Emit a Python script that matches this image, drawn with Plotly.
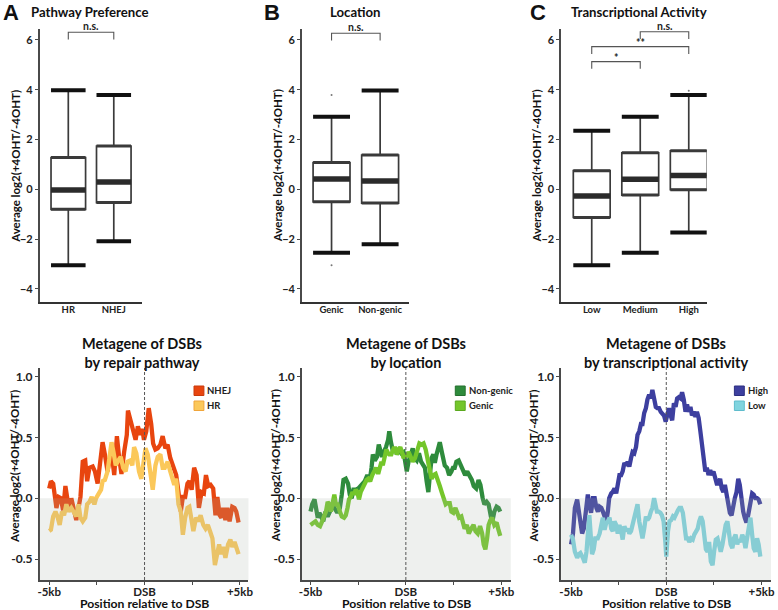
import plotly.graph_objects as go

# ---------------- Box-plot data (top row) ----------------
A_cats = ["HR", "NHEJ"]
A_upper = [3.98, 3.79]
A_q3 = [1.28, 1.74]
A_median = [-0.03, 0.30]
A_q1 = [-0.80, -0.53]
A_lower = [-3.05, -2.08]
A_out_cat, A_out_val = [], []
A_sig_left, A_sig_right, A_sig_height, A_sig_label = [0], [1], [6.31], ["n.s."]

B_cats = ["Genic", "Non-genic"]
B_upper = [2.92, 3.97]
B_q3 = [1.08, 1.38]
B_median = [0.42, 0.34]
B_q1 = [-0.50, -0.55]
B_lower = [-2.54, -2.20]
B_out_cat, B_out_val = [0, 0], [3.79, -3.05]
B_sig_left, B_sig_right, B_sig_height, B_sig_label = [0], [1], [6.27], ["n.s."]

C_cats = ["Low", "Medium", "High"]
C_upper = [2.35, 2.92, 3.79]
C_q3 = [0.75, 1.47, 1.55]
C_median = [-0.27, 0.41, 0.56]
C_q1 = [-1.13, -0.23, -0.01]
C_lower = [-3.05, -2.54, -1.73]
C_out_cat, C_out_val = [2], [3.96]
C_sig_left, C_sig_right = [1, 0, 0], [2, 2, 1]
C_sig_height, C_sig_label = [6.33, 5.73, 5.13], ["n.s.", "**", "*"]

# ---------------- Metagene data (bottom row) ----------------
NHEJ_kb = [-5.0,-4.91,-4.79,-4.62,-4.50,-4.39,-4.27,-4.15,-4.05,-3.93,-3.84,-3.70,-3.58,-3.46,-3.36,-3.24,-3.11,-3.01,-2.89,-2.72,-2.60,-2.46,-2.32,-2.20,-2.08,-1.94,-1.85,-1.73,-1.59,-1.45,-1.33,-1.21,-1.07,-0.93,-0.87,-0.73,-0.59,-0.47,-0.35,-0.21,-0.12,-0.03,0.09,0.22,0.35,0.45,0.57,0.69,0.83,0.95,1.09,1.21,1.35,1.47,1.56,1.66,1.78,1.90,2.01,2.13,2.25,2.35,2.47,2.60,2.73,2.85,2.99,3.11,3.22,3.34,3.46,3.60,3.72,3.82,3.94,4.03,4.12,4.24,4.34,4.46,4.60,4.72,4.81,4.93]
NHEJ_val = [0.08,0.14,0.12,-0.08,0.01,0.00,-0.10,0.10,0.00,-0.11,0.00,-0.08,-0.18,-0.08,0.01,0.30,0.31,0.14,0.25,0.26,0.22,0.12,0.33,0.46,0.36,0.22,0.30,0.38,0.19,0.51,0.33,0.20,0.38,0.52,0.72,0.63,0.53,0.48,0.59,0.52,0.57,0.48,0.55,0.74,0.61,0.45,0.40,0.41,0.44,0.51,0.41,0.44,0.33,0.27,0.22,0.19,0.05,-0.11,0.01,0.01,0.12,0.14,0.07,0.25,0.19,-0.08,0.05,0.04,0.19,0.10,0.11,0.08,-0.14,0.01,-0.14,-0.16,-0.08,-0.18,-0.08,-0.19,-0.07,-0.08,-0.11,-0.20]

HR_kb = [-5.0,-4.91,-4.79,-4.67,-4.57,-4.45,-4.33,-4.22,-4.10,-3.98,-3.84,-3.70,-3.58,-3.46,-3.36,-3.24,-3.11,-3.01,-2.89,-2.77,-2.63,-2.54,-2.42,-2.28,-2.20,-2.08,-1.94,-1.85,-1.73,-1.63,-1.51,-1.38,-1.25,-1.12,-0.99,-0.90,-0.76,-0.64,-0.55,-0.43,-0.29,-0.17,-0.07,0.05,0.17,0.31,0.43,0.57,0.69,0.83,0.95,1.06,1.21,1.35,1.47,1.56,1.66,1.78,1.90,2.01,2.13,2.25,2.35,2.47,2.56,2.70,2.82,2.94,3.08,3.20,3.32,3.43,3.56,3.69,3.81,3.91,4.00,4.12,4.24,4.38,4.50,4.60,4.72,4.81,4.93]
HR_val = [-0.27,-0.26,-0.15,-0.11,-0.15,-0.22,-0.11,-0.14,-0.05,-0.11,-0.08,-0.11,-0.15,-0.05,-0.16,-0.19,-0.16,-0.05,-0.03,0.01,-0.05,0.00,0.03,0.07,0.14,0.15,0.22,0.34,0.46,0.38,0.27,0.31,0.34,0.25,0.22,0.30,0.31,0.27,0.42,0.37,0.22,0.16,0.30,0.41,0.36,0.19,0.07,0.27,0.34,0.36,0.25,0.25,0.30,0.22,0.14,0.11,0.16,-0.05,-0.11,-0.30,-0.16,-0.08,-0.07,-0.19,-0.27,-0.16,-0.19,-0.14,-0.22,-0.25,-0.22,-0.27,-0.33,-0.55,-0.44,-0.38,-0.46,-0.40,-0.49,-0.38,-0.34,-0.40,-0.36,-0.40,-0.46]

NONGENIC_kb = [-5.0,-4.91,-4.79,-4.71,-4.62,-4.53,-4.45,-4.33,-4.22,-4.10,-3.98,-3.88,-3.75,-3.63,-3.53,-3.46,-3.36,-3.27,-3.15,-3.03,-2.94,-2.84,-2.75,-2.63,-2.49,-2.37,-2.25,-2.15,-2.02,-1.90,-1.80,-1.73,-1.63,-1.51,-1.42,-1.33,-1.25,-1.16,-1.04,-0.93,-0.87,-0.78,-0.67,-0.55,-0.47,-0.35,-0.24,-0.12,-0.03,0.05,0.14,0.26,0.36,0.45,0.57,0.69,0.80,0.92,1.00,1.09,1.18,1.26,1.35,1.44,1.52,1.61,1.70,1.78,1.90,2.04,2.16,2.27,2.39,2.47,2.56,2.65,2.77,2.87,2.99,3.11,3.22,3.34,3.46,3.56,3.69,3.81,3.91,4.03,4.12,4.24,4.34,4.46,4.55,4.64,4.76,4.86,4.95]
NONGENIC_val = [-0.11,-0.05,-0.01,-0.08,-0.16,-0.12,-0.15,-0.19,-0.11,-0.15,-0.11,-0.05,-0.08,-0.11,-0.11,-0.08,0.03,0.15,0.16,0.12,0.03,0.00,0.07,0.07,0.08,0.10,0.12,0.14,0.19,0.14,0.25,0.36,0.31,0.34,0.44,0.40,0.34,0.38,0.42,0.48,0.55,0.46,0.38,0.41,0.36,0.40,0.37,0.38,0.29,0.22,0.30,0.36,0.41,0.33,0.31,0.37,0.30,0.27,0.25,0.14,0.05,0.19,0.33,0.36,0.29,0.36,0.44,0.46,0.37,0.27,0.25,0.19,0.22,0.25,0.25,0.30,0.31,0.27,0.22,0.19,0.22,0.19,0.15,0.10,0.08,0.15,0.11,0.00,-0.05,-0.03,-0.05,-0.15,-0.18,-0.11,-0.07,-0.08,-0.11]

GENIC_kb = [-5.0,-4.88,-4.74,-4.62,-4.50,-4.39,-4.27,-4.19,-4.10,-4.01,-3.93,-3.84,-3.75,-3.67,-3.58,-3.46,-3.36,-3.24,-3.15,-3.06,-2.98,-2.89,-2.80,-2.72,-2.63,-2.54,-2.46,-2.37,-2.28,-2.16,-2.06,-1.97,-1.87,-1.76,-1.64,-1.56,-1.45,-1.37,-1.28,-1.21,-1.11,-1.02,-0.93,-0.87,-0.76,-0.64,-0.55,-0.47,-0.38,-0.29,-0.21,-0.12,-0.03,0.05,0.14,0.26,0.36,0.48,0.61,0.71,0.83,0.93,1.04,1.14,1.23,1.35,1.45,1.56,1.66,1.78,1.90,2.01,2.09,2.18,2.30,2.39,2.49,2.60,2.70,2.79,2.91,2.99,3.08,3.20,3.30,3.43,3.55,3.65,3.77,3.89,4.00,4.08,4.17,4.26,4.34,4.43,4.52,4.64,4.76,4.84,4.95]
GENIC_val = [-0.22,-0.21,-0.19,-0.22,-0.23,-0.19,-0.14,-0.11,-0.03,-0.05,-0.11,-0.03,0.03,-0.05,-0.05,-0.11,-0.15,-0.16,-0.14,-0.08,-0.01,0.01,0.05,0.03,0.07,0.05,-0.01,0.05,0.08,0.12,0.15,0.16,0.14,0.19,0.23,0.25,0.20,0.25,0.30,0.27,0.34,0.40,0.37,0.36,0.36,0.41,0.41,0.36,0.40,0.42,0.38,0.33,0.36,0.34,0.38,0.33,0.30,0.33,0.42,0.45,0.44,0.45,0.40,0.29,0.25,0.16,0.19,0.20,0.14,0.10,0.04,0.00,-0.05,-0.04,-0.04,-0.11,-0.12,-0.08,-0.12,-0.16,-0.15,-0.19,-0.25,-0.22,-0.29,-0.25,-0.22,-0.27,-0.29,-0.23,-0.29,-0.38,-0.42,-0.33,-0.22,-0.18,-0.16,-0.22,-0.20,-0.25,-0.31]

HIGH_kb = [-5.0,-4.90,-4.80,-4.68,-4.59,-4.51,-4.42,-4.33,-4.25,-4.12,-4.04,-3.95,-3.85,-3.76,-3.67,-3.59,-3.50,-3.41,-3.33,-3.24,-3.15,-3.07,-3.00,-2.89,-2.82,-2.72,-2.63,-2.55,-2.46,-2.37,-2.29,-2.20,-2.11,-2.03,-1.94,-1.85,-1.77,-1.68,-1.59,-1.51,-1.42,-1.33,-1.25,-1.16,-1.07,-0.99,-0.90,-0.81,-0.73,-0.64,-0.55,-0.47,-0.38,-0.29,-0.21,-0.12,-0.03,0.05,0.14,0.23,0.31,0.40,0.49,0.57,0.66,0.75,0.83,0.92,1.01,1.09,1.18,1.27,1.35,1.44,1.53,1.61,1.70,1.79,1.87,1.96,2.05,2.13,2.22,2.31,2.39,2.48,2.56,2.65,2.74,2.83,2.91,3.00,3.08,3.17,3.26,3.34,3.43,3.52,3.60,3.69,3.78,3.86,3.95,4.04,4.12,4.21,4.30,4.38,4.51,4.59,4.68,4.77,4.85,4.94]
HIGH_val = [-0.38,-0.29,-0.08,-0.01,-0.11,-0.22,-0.29,-0.25,-0.14,0.03,-0.05,-0.12,0.00,0.00,-0.08,-0.11,-0.07,-0.08,-0.11,-0.16,-0.19,-0.11,0.00,0.04,0.05,0.08,0.04,0.11,0.19,0.19,0.22,0.29,0.27,0.30,0.26,0.33,0.38,0.37,0.42,0.52,0.55,0.61,0.61,0.70,0.74,0.81,0.85,0.82,0.89,0.82,0.75,0.74,0.74,0.71,0.70,0.68,0.63,0.68,0.74,0.68,0.64,0.78,0.75,0.82,0.83,0.82,0.87,0.81,0.71,0.77,0.71,0.75,0.68,0.71,0.67,0.71,0.66,0.55,0.44,0.33,0.22,0.25,0.19,0.23,0.19,0.22,0.16,0.12,0.12,0.16,0.08,0.05,0.11,0.03,-0.01,-0.12,-0.14,-0.05,0.00,0.05,0.16,0.11,-0.03,-0.11,-0.16,-0.20,-0.14,-0.05,0.04,0.03,0.00,0.00,-0.01,-0.05]

LOW_kb = [-5.0,-4.90,-4.80,-4.68,-4.59,-4.51,-4.38,-4.28,-4.19,-4.11,-4.04,-3.97,-3.90,-3.81,-3.73,-3.60,-3.50,-3.41,-3.33,-3.24,-3.15,-3.07,-2.98,-2.89,-2.81,-2.72,-2.63,-2.55,-2.46,-2.37,-2.29,-2.20,-2.11,-2.03,-1.94,-1.85,-1.77,-1.68,-1.59,-1.51,-1.42,-1.33,-1.25,-1.16,-1.07,-0.99,-0.90,-0.81,-0.73,-0.64,-0.57,-0.49,-0.40,-0.31,-0.23,-0.14,-0.05,0.00,0.09,0.17,0.26,0.35,0.43,0.52,0.61,0.69,0.78,0.87,0.95,1.04,1.13,1.21,1.30,1.39,1.47,1.56,1.65,1.73,1.82,1.91,1.99,2.08,2.17,2.25,2.34,2.43,2.51,2.60,2.69,2.77,2.86,2.95,3.03,3.12,3.21,3.29,3.38,3.47,3.55,3.64,3.73,3.81,3.90,3.99,4.07,4.16,4.25,4.33,4.42,4.51,4.59,4.68,4.77,4.85,4.94]
LOW_val = [-0.30,-0.34,-0.44,-0.49,-0.46,-0.45,-0.49,-0.53,-0.44,-0.26,-0.14,-0.30,-0.46,-0.42,-0.33,-0.33,-0.29,-0.22,-0.16,-0.26,-0.20,-0.19,-0.16,-0.25,-0.27,-0.19,-0.22,-0.29,-0.22,-0.27,-0.34,-0.23,-0.27,-0.25,-0.29,-0.27,-0.22,-0.16,-0.08,-0.05,-0.19,-0.30,-0.33,-0.25,-0.15,-0.18,-0.16,-0.11,-0.08,0.00,-0.05,-0.11,-0.11,-0.12,-0.14,-0.19,-0.36,-0.48,-0.27,-0.19,-0.18,-0.15,-0.16,-0.12,-0.10,-0.08,-0.08,-0.12,-0.22,-0.33,-0.33,-0.36,-0.33,-0.34,-0.30,-0.27,-0.25,-0.19,-0.15,-0.19,-0.29,-0.42,-0.44,-0.36,-0.52,-0.55,-0.44,-0.34,-0.33,-0.38,-0.44,-0.38,-0.30,-0.22,-0.19,-0.27,-0.38,-0.41,-0.33,-0.30,-0.38,-0.34,-0.36,-0.30,-0.33,-0.41,-0.33,-0.22,-0.16,-0.30,-0.41,-0.44,-0.33,-0.38,-0.48]

# ---------------- styling ----------------
FONT = "Lato"
TXT = "#222222"
AX = "#4a4a4a"
BOX_W = 0.76
TOP_YR = [-4.52, 6.44]
BOT_YR = [-0.672, 1.07]
W, H = 778, 610

fig = go.Figure()


def ax_names(n):
    return ("x" if n == 1 else f"x{n}"), ("y" if n == 1 else f"y{n}")


def box_panel(n, cats, upper, q3, med, q1, lower, out_cat, out_val,
              sl, sr, sh, slab):
    xa, ya = ax_names(n)
    idx = list(range(len(cats)))
    fig.add_trace(go.Box(
        x=idx, q1=q1, median=med, q3=q3, lowerfence=lower, upperfence=upper,
        width=BOX_W, whiskerwidth=0, boxpoints=False,
        line=dict(color="#3a3a3a", width=1.7), fillcolor="white",
        xaxis=xa, yaxis=ya, showlegend=False, hoverinfo="skip"))

    def seg(vals, lw, col):
        xs, ys = [], []
        for i, v in zip(idx, vals):
            xs += [i - BOX_W / 2, i + BOX_W / 2, None]
            ys += [v, v, None]
        fig.add_trace(go.Scatter(x=xs, y=ys, mode="lines",
                                 line=dict(color=col, width=lw),
                                 xaxis=xa, yaxis=ya, showlegend=False,
                                 hoverinfo="skip"))
    seg(q3, 3, "#3a3a3a")
    seg(q1, 3, "#3a3a3a")
    seg(med, 5.5, "#2b2b2b")
    seg(upper, 4, "#111111")
    seg(lower, 4, "#111111")
    if out_cat:
        fig.add_trace(go.Scatter(x=out_cat, y=out_val, mode="markers",
                                 marker=dict(size=2, color="#777"),
                                 xaxis=xa, yaxis=ya, showlegend=False,
                                 hoverinfo="skip"))
    # significance brackets
    drop = 0.29
    xs, ys = [], []
    for a, b, h in zip(sl, sr, sh):
        xs += [a, a, b, b, None]
        ys += [h - drop, h, h, h - drop, None]
    fig.add_trace(go.Scatter(x=xs, y=ys, mode="lines",
                             line=dict(color="#555", width=1.1),
                             xaxis=xa, yaxis=ya, showlegend=False,
                             hoverinfo="skip", cliponaxis=False))
    for a, b, h, t in zip(sl, sr, sh, slab):
        fig.add_annotation(x=(a + b) / 2, y=h, xref=xa, yref=ya, text=t,
                           showarrow=False, yanchor="bottom",
                           yshift=-4 if "*" in t else -2,
                           font=dict(size=10.5, color=TXT, family=FONT, weight="bold"))


box_panel(1, A_cats, A_upper, A_q3, A_median, A_q1, A_lower, A_out_cat, A_out_val,
          A_sig_left, A_sig_right, A_sig_height, A_sig_label)
box_panel(2, B_cats, B_upper, B_q3, B_median, B_q1, B_lower, B_out_cat, B_out_val,
          B_sig_left, B_sig_right, B_sig_height, B_sig_label)
box_panel(3, C_cats, C_upper, C_q3, C_median, C_q1, C_lower, C_out_cat, C_out_val,
          C_sig_left, C_sig_right, C_sig_height, C_sig_label)

# legend swatch placement (pixels of the page): left x of swatch, top y of first entry
LEGEND_POS = {4: (193, 386), 5: (457, 386), 6: (739, 386)}


def line_panel(n, series):
    xa, ya = ax_names(n)
    for name, xs, ys, col, edge in series:
        fig.add_trace(go.Scatter(x=xs, y=ys, mode="lines", name=name,
                                 line=dict(color=col, width=4.3),
                                 xaxis=xa, yaxis=ya, showlegend=False,
                                 hoverinfo="skip"))
    # translucent grey band below zero (drawn above the lines)
    fig.add_shape(type="rect", xref=f"{xa} domain", yref=ya, x0=0, x1=1,
                  y0=BOT_YR[0], y1=0, fillcolor="rgba(165,175,165,0.19)",
                  line=dict(width=0), layer="above")
    fig.add_shape(type="line", xref=xa, yref=f"{ya} domain", x0=0, x1=0,
                  y0=0, y1=1, line=dict(color="#555", width=1, dash="3px,2px"),
                  layer="above")
    # compact legend: square swatch + label
    lx, ly = LEGEND_POS[n]
    for k, (name, xs, ys, col, edge) in enumerate(series):
        top = ly + k * 15
        fig.add_shape(type="rect", xref="paper", yref="paper",
                      x0=lx / W, x1=(lx + 10) / W,
                      y0=1 - (top + 9.5) / H, y1=1 - top / H,
                      fillcolor=col, line=dict(color=edge, width=1), layer="above")
        fig.add_annotation(x=(lx + 11.5) / W, y=1 - (top + 4.8) / H,
                           xref="paper", yref="paper", text=name, showarrow=False,
                           xanchor="left", yanchor="middle",
                           font=dict(size=9.5, color=TXT, family=FONT, weight="bold"))


line_panel(4, [("NHEJ", NHEJ_kb, NHEJ_val, "#e8450f", "#c93a0c"),
               ("HR", HR_kb, HR_val, "#fbc85a", "#f0a53a")])
line_panel(5, [("Non-genic", NONGENIC_kb, NONGENIC_val, "#2e8b3c", "#25702f"),
               ("Genic", GENIC_kb, GENIC_val, "#74c62a", "#5aa81e")])
line_panel(6, [("High", HIGH_kb, HIGH_val, "#3d3f9f", "#2c2e80"),
               ("Low", LOW_kb, LOW_val, "#80d4df", "#5fbccc")])

# ---------------- axes ----------------
tick_font = dict(size=11, color=TXT, family=FONT, weight="bold")
top_x = [(0.0476, 0.1799, [-0.63, 1.61], A_cats),
         (0.3882, 0.5270, [-0.61, 1.59], B_cats),
         (0.7249, 0.9139, [-0.63, 2.37], C_cats)]
bot_x = [(0.0476, 0.3188, [-5.5, 5.45]),
         (0.3882, 0.6594, [-5.45, 5.5]),
         (0.7249, 0.9974, [-5.52, 5.5])]
top_dom = [0.505, 0.9525]
bot_dom = [0.0492, 0.3967]

lay = {}
for k, (d0, d1, rng, cats) in enumerate(top_x, start=1):
    xk = "xaxis" if k == 1 else f"xaxis{k}"
    yk = "yaxis" if k == 1 else f"yaxis{k}"
    xa, ya = ax_names(k)
    lay[xk] = dict(domain=[d0, d1], range=rng, anchor=ya,
                   tickvals=list(range(len(cats))), ticktext=cats,
                   showline=True, linecolor="#333", linewidth=2, ticks="",
                   showgrid=False, zeroline=False, ticklabelstandoff=-2,
                   tickfont=dict(size=9.5, color=TXT, family=FONT, weight="bold"))
    lay[yk] = dict(domain=top_dom, range=TOP_YR, anchor=xa,
                   tickvals=[-4, -2, 0, 2, 4, 6],
                   showline=True, linecolor=AX, linewidth=1.5,
                   ticks="outside", ticklen=3, tickcolor=AX, tickwidth=1.2,
                   showgrid=False, zeroline=False, tickfont=tick_font)
for j, (d0, d1, rng) in enumerate(bot_x):
    k = j + 4
    xa, ya = ax_names(k)
    lay[f"xaxis{k}"] = dict(domain=[d0, d1], range=rng, anchor=ya,
                            tickvals=[-5, -2.5, 0, 2.5, 5],
                            ticktext=["-5kb", "", "DSB", "", "+5kb"],
                            showline=True, linecolor=AX, linewidth=1.5,
                            ticks="outside", ticklen=3, tickcolor=AX,
                            showgrid=False, zeroline=False, ticklabelstandoff=-3,
                            tickfont=dict(size=11.5, color=TXT, family=FONT, weight="bold"))
    lay[f"yaxis{k}"] = dict(domain=bot_dom, range=BOT_YR, anchor=xa,
                            tickvals=[-0.5, 0, 0.5, 1.0],
                            ticktext=["-0.5", "0.0", "0.5", "1.0"],
                            showline=True, linecolor=AX, linewidth=1.5,
                            ticks="outside", ticklen=3, tickcolor=AX,
                            showgrid=False, zeroline=False,
                            tickfont=dict(size=12, color=TXT, family=FONT, weight="bold"))

fig.update_layout(
    width=W, height=H, margin=dict(l=0, r=0, t=0, b=0),
    paper_bgcolor="white", plot_bgcolor="rgba(0,0,0,0)",
    font=dict(family=FONT, color=TXT, weight="bold"),
    showlegend=False,
    **lay)

# ---------------- text ----------------
def txt(x, y, s, size, fam=FONT, angle=0):
    fig.add_annotation(x=x / W, y=1 - y / H, xref="paper", yref="paper", text=s,
                       showarrow=False, textangle=angle, xanchor="center",
                       yanchor="middle",
                       font=dict(size=size, color="#111", family=fam, weight="bold"))

txt(8, 13, "A", 22, "Liberation Sans")
txt(272, 13, "B", 22, "Liberation Sans")
txt(541, 13, "C", 22, "Liberation Sans")
txt(88, 12.5, "Pathway Preference", 13.2)
txt(356, 12.5, "Location", 13.2)
txt(643, 12.5, "Transcriptional Activity", 13.2)
ytitle = "Average log2(+4OHT/-4OHT)"
for x in (13, 278, 540):
    txt(x, 166, ytitle, 11.5, angle=-90)
for x in (11, 275, 536):
    txt(x, 466, ytitle, 11.5, angle=-90)
txt(140, 353, "Metagene of DSBs<br>by repair pathway", 14.5)
txt(407, 353, "Metagene of DSBs<br>by location", 14.5)
txt(670, 353, "Metagene of DSBs<br>by transcriptional activity", 14.5)
for x in (143, 408, 670):
    txt(x, 603, "Position relative to DSB", 12.2)

fig.write_html("out.html",
               config={"displayModeBar": False},
               post_script="document.body.style.margin='0px';"
                           "document.body.style.overflow='hidden';")
